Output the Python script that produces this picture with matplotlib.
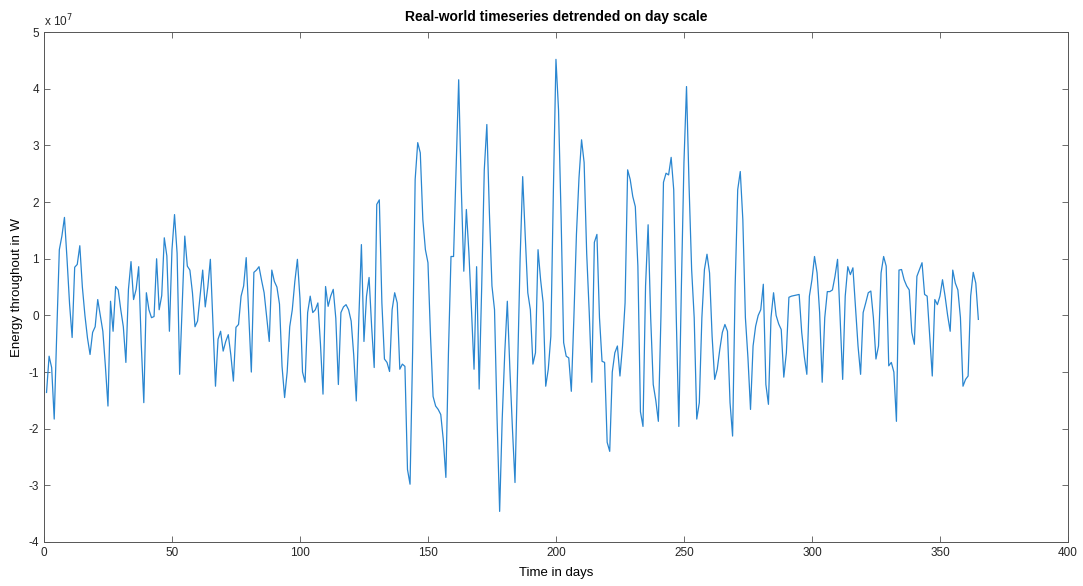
import numpy as np
import matplotlib
matplotlib.use('Agg')
import matplotlib.pyplot as plt
from matplotlib.ticker import FuncFormatter

# detrended daily energy, in units of 1e7 W
energy_e7 = [
    -1.36, -0.72, -0.92, -1.83, -0.30, 1.16, 1.40, 1.73, 1.00, 0.20,
    -0.39, 0.85, 0.90, 1.23, 0.50, 0.00, -0.40, -0.69, -0.30, -0.20,
    0.28, 0.00, -0.28, -0.90, -1.60, 0.25, -0.28, 0.51, 0.45, 0.10,
    -0.20, -0.83, 0.46, 0.95, 0.28, 0.46, 0.86, -0.50, -1.54, 0.40,
    0.10, -0.04, -0.02, 1.00, 0.10, 0.35, 1.37, 1.05, -0.28, 1.16,
    1.78, 1.10, -1.04, 0.20, 1.40, 0.87, 0.80, 0.40, -0.20, -0.10,
    0.35, 0.80, 0.15, 0.50, 0.99, -0.14, -1.25, -0.42, -0.28, -0.63,
    -0.46, -0.34, -0.70, -1.16, -0.21, -0.16, 0.34, 0.52, 1.02, 0.00,
    -1.00, 0.76, 0.80, 0.86, 0.62, 0.40, -0.03, -0.46, 0.80, 0.60,
    0.50, 0.20, -0.90, -1.45, -1.00, -0.20, 0.10, 0.60, 0.99, 0.30,
    -1.00, -1.18, 0.05, 0.34, 0.05, 0.10, 0.22, -0.50, -1.39, 0.51,
    0.16, 0.34, 0.46, -0.05, -1.22, 0.05, 0.15, 0.19, 0.10, -0.10,
    -0.70, -1.51, -0.05, 1.25, -0.46, 0.34, 0.67, -0.20, -0.92, 1.96,
    2.04, 0.22, -0.77, -0.83, -0.99, 0.10, 0.40, 0.22, -0.95, -0.86,
    -0.90, -2.72, -2.98, -0.66, 2.40, 3.05, 2.87, 1.69, 1.16, 0.93,
    -0.37, -1.43, -1.60, -1.66, -1.75, -2.20, -2.86, -0.66, 1.04, 1.04,
    2.57, 4.16, 2.28, 0.78, 1.87, 1.10, 0.10, -0.95, 0.86, -1.30,
    0.52, 2.57, 3.37, 1.81, 0.52, 0.10, -1.83, -3.46, -1.83, -0.66,
    0.25, -0.95, -2.00, -2.95, -1.00, 1.00, 2.45, 1.40, 0.40, 0.10,
    -0.86, -0.66, 1.16, 0.63, 0.22, -1.25, -0.95, -0.37, 2.22, 4.52,
    3.63, 1.75, -0.48, -0.72, -0.75, -1.34, -0.04, 1.43, 2.43, 3.10,
    2.70, 1.10, 0.05, -1.18, 1.29, 1.43, -0.04, -0.81, -0.83, -2.24,
    -2.40, -1.00, -0.66, -0.54, -1.07, -0.54, 0.22, 2.57, 2.40, 2.10,
    1.92, 0.87, -1.70, -1.96, 0.52, 1.60, -0.04, -1.22, -1.50, -1.87,
    -0.04, 2.35, 2.51, 2.48, 2.79, 2.22, -0.04, -1.96, 0.52, 2.70,
    4.04, 2.28, 0.81, -0.04, -1.83, -1.54, -0.04, 0.81, 1.08, 0.75,
    -0.37, -1.13, -0.95, -0.60, -0.30, -0.16, -0.28, -1.54, -2.13, 0.52,
    2.22, 2.54, 1.69, -0.04, -0.75, -1.66, -0.54, -0.19, 0.00, 0.10,
    0.55, -1.22, -1.57, -0.04, 0.40, 0.00, -0.15, -0.25, -1.09, -0.66,
    0.32, 0.34, 0.35, 0.36, 0.37, -0.30, -0.72, -1.04, 0.34, 0.63,
    1.04, 0.75, 0.05, -1.18, -0.04, 0.42, 0.42, 0.45, 0.69, 0.99,
    -0.04, -1.13, 0.34, 0.86, 0.72, 0.84, 0.16, -0.54, -1.04, 0.05,
    0.22, 0.40, 0.43, -0.04, -0.77, -0.54, 0.75, 1.04, 0.87, -0.89,
    -0.83, -1.00, -1.87, 0.80, 0.81, 0.63, 0.52, 0.45, -0.30, -0.51,
    0.69, 0.81, 0.93, 0.37, 0.34, -0.37, -1.07, 0.28, 0.19, 0.34,
    0.63, 0.34, 0.00, -0.28, 0.80, 0.57, 0.45, -0.04, -1.25, -1.13,
    -1.07, 0.34, 0.76, 0.57, -0.07,
]
days = np.arange(1, len(energy_e7) + 1)
energy = np.array(energy_e7) * 1e7

x_ticks = list(range(0, 401, 50))
y_ticks = [v * 1e7 for v in range(-4, 6)]

plt.rcParams['font.family'] = ['Liberation Sans', 'DejaVu Sans']

fig = plt.figure(figsize=(10.83, 5.86), dpi=100)
ax = fig.add_axes([0.0406, 0.0751, 0.9455, 0.870])

ax.plot(days, energy, color='#2a86d0', linewidth=0.9)

ax.set_xlim(0, 400)
ax.set_ylim(-4e7, 5e7)
ax.set_xticks(x_ticks)
ax.set_yticks(y_ticks)
ax.yaxis.set_major_formatter(FuncFormatter(lambda v, p: '%d' % round(v / 1e7)))

ax.tick_params(direction='in', length=4, width=0.6, colors='#555555',
               labelcolor='#262626', labelsize=8.5, top=True, right=True)
for s in ax.spines.values():
    s.set_color('#555555')
    s.set_linewidth(0.7)

ax.text(0.0, 1.005, r'x 10$^{7}$', transform=ax.transAxes, fontsize=8.5,
        ha='left', va='bottom', color='#262626')

ax.set_title('Real-world timeseries detrended on day scale', fontsize=10,
             fontweight='bold', pad=8)
ax.set_xlabel('Time in days', fontsize=9.5, labelpad=6)
ax.set_ylabel('Energy throughout in W', fontsize=9.5, labelpad=4)

fig.savefig('out.png', dpi=100)
